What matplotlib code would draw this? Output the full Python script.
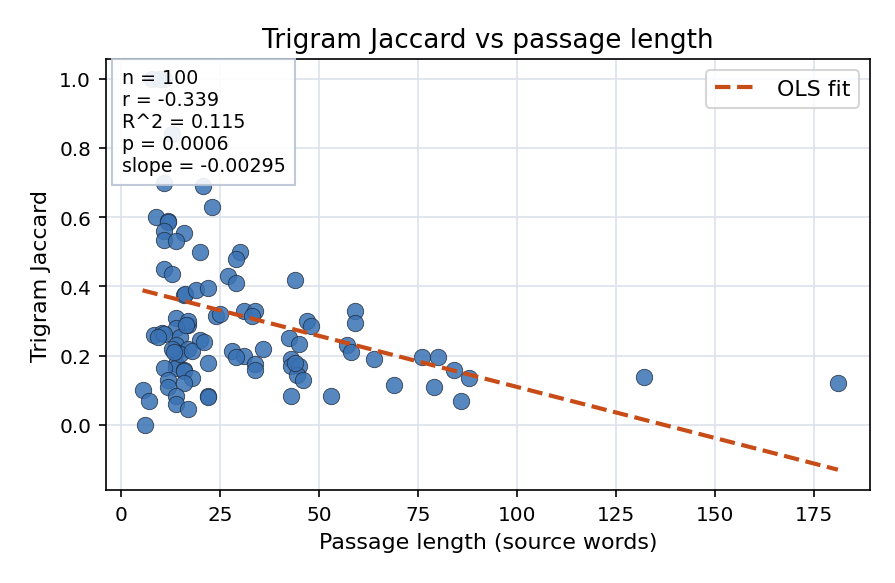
import matplotlib
matplotlib.use("Agg")
import matplotlib.pyplot as plt
import numpy as np

# valores: longitud del pasaje (palabras) y Jaccard de trigramas
passage_len = [8, 11, 13, 11, 20.7, 23, 9, 12, 12, 11, 16, 11, 14, 20, 30, 29, 11, 13, 27, 29,
               44, 16, 16.3, 19, 22, 24, 31, 34, 33, 14, 17, 17, 14, 47, 48, 59, 59, 8.5, 10.5, 11,
               15, 20, 42.5, 45, 14, 17, 14, 28, 36, 57, 58, 31, 29, 43, 64, 76, 80, 84, 88, 14,
               14, 11, 22, 34, 34, 43, 45, 16, 16, 44.5, 46, 18, 12, 12, 16, 69, 79, 5.5, 7, 14,
               14, 22, 22, 43, 53, 86, 17, 6, 132, 181, 15, 13, 18, 21, 25, 9.5, 16.5, 13.5, 44, 10]
jaccard = [1.0, 1.0, 0.84, 0.70, 0.69, 0.63, 0.60, 0.59, 0.585, 0.56, 0.555, 0.535, 0.53, 0.50, 0.50, 0.48, 0.45, 0.435, 0.43, 0.41,
           0.42, 0.375, 0.378, 0.39, 0.395, 0.315, 0.33, 0.33, 0.315, 0.31, 0.29, 0.30, 0.28, 0.30, 0.285, 0.33, 0.295, 0.26, 0.265, 0.262,
           0.255, 0.245, 0.25, 0.235, 0.23, 0.22, 0.21, 0.215, 0.22, 0.23, 0.21, 0.20, 0.195, 0.19, 0.19, 0.195, 0.195, 0.16, 0.135, 0.175,
           0.165, 0.165, 0.18, 0.175, 0.16, 0.17, 0.17, 0.16, 0.155, 0.145, 0.13, 0.135, 0.13, 0.11, 0.12, 0.115, 0.11, 0.10, 0.07, 0.085,
           0.06, 0.085, 0.08, 0.085, 0.085, 0.07, 0.045, 0.0, 0.14, 0.12, 0.205, 0.22, 0.215, 0.24, 0.32, 0.255, 0.29, 0.21, 0.18, 1.0]

fit_slope = -0.00295
fit_intercept = 0.405
stats_lines = ["n = 100", "r = -0.339", "R^2 = 0.115", "p = 0.0006", "slope = -0.00295"]

fig, ax = plt.subplots(figsize=(5.973, 3.893), dpi=150)
fig.subplots_adjust(left=0.118, right=0.971, top=0.897, bottom=0.159)

ax.grid(True, color="#dde3ec", linewidth=0.8, zorder=0)
ax.scatter(passage_len, jaccard, s=62, color="#3a72b4", alpha=0.85,
           edgecolor="#1f2a3a", linewidth=0.4, zorder=3)

xs = np.array([min(passage_len), max(passage_len)])
ax.plot(xs, fit_intercept + fit_slope * xs, "--", color="#c84c18", linewidth=2,
        label="OLS fit", zorder=4)

ax.set_xlim(-3.8, 189.1)
ax.set_ylim(-0.188, 1.056)
ax.set_title("Trigram Jaccard vs passage length", fontsize=12.6)
ax.set_xlabel("Passage length (source words)", fontsize=10.6)
ax.set_ylabel("Trigram Jaccard", fontsize=10.6)
ax.tick_params(labelsize=9.6)

ax.text(0.021, 0.979, "\n".join(stats_lines), transform=ax.transAxes, fontsize=9.1,
        va="top", ha="left", zorder=6,
        bbox=dict(boxstyle="square,pad=0.5", facecolor="white", alpha=0.9,
                  edgecolor="#b8c4d4"))
ax.legend(loc="upper right", fontsize=10.6)

plt.savefig("out.png", dpi=150)
plt.close()
